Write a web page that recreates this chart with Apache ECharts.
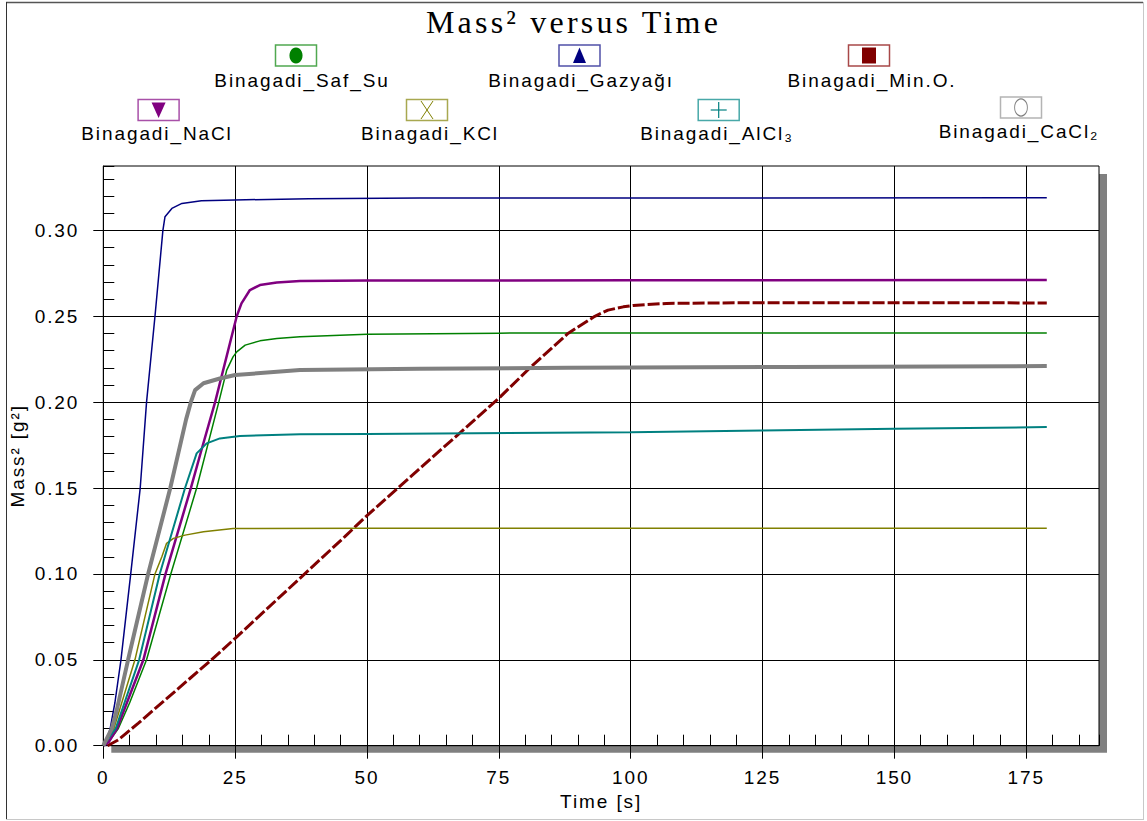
<!DOCTYPE html>
<html><head><meta charset="utf-8">
<script src="https://cdn.jsdelivr.net/npm/echarts@6/dist/echarts.min.js"></script>
<style>
html,body{margin:0;padding:0;background:#fff;}
#chart{width:1147px;height:821px;}
#chart text{letter-spacing:0.1em;}
</style></head><body><div id="chart"></div>
<script>
// ---------- data ----------
const seriesNames = ['Binagadi_Saf_Su','Binagadi_Gazyağı','Binagadi_Min.O.','Binagadi_NaCl','Binagadi_KCl','Binagadi_AlCl₃','Binagadi_CaCl₂'];
const xTickValues = [0,25,50,75,100,125,150,175];
const yTickValues = [0,0.05,0.10,0.15,0.20,0.25,0.30];

const safSu = [[0,0],[1.2,0.003],[2.85,0.01],[5,0.025],[8.2,0.05],[12.8,0.10],[17.7,0.15],[21.9,0.20],[23.4,0.2187],[24.6,0.2264],[25.3,0.2293],[26.9,0.2332],[29.7,0.2357],[32.9,0.2371],[37.3,0.2381],[50,0.2395],[75,0.2402],[120,0.2403],[178.9,0.2403]];
const gazyagi = [[0.4,0],[1.3,0.01],[2.2,0.025],[3.35,0.05],[5.2,0.10],[7.0,0.15],[8.2,0.20],[9.8,0.25],[11.3,0.30],[11.7,0.308],[13.0,0.3128],[14.9,0.3157],[18.6,0.3172],[25,0.3177],[39,0.3185],[60,0.3188],[178.9,0.319]];
const minO = [[0.8,0],[2.8,0.0033],[6.6,0.013],[20.5,0.05],[25,0.0625],[45.8,0.1217],[50,0.134],[75,0.2023],[80.9,0.22],[88.1,0.24],[93.2,0.25],[95.7,0.2536],[98.6,0.2555],[100.5,0.2563],[106.8,0.2575],[120.7,0.2579],[178.9,0.2578]];
const naCl = [[0,0],[1.0,0.002],[2.6,0.01],[7.6,0.05],[11.8,0.10],[16.6,0.15],[18.6,0.172],[21.2,0.20],[25.3,0.25],[26.2,0.2575],[27.8,0.2653],[29.7,0.2682],[32.9,0.2697],[37.3,0.2705],[50,0.2708],[100,0.271],[178.9,0.2711]];
const kCl = [[0,0],[2.0,0.01],[6.0,0.05],[9.8,0.10],[11.1,0.11],[12.0,0.1178],[13.3,0.1207],[15.5,0.1226],[19.0,0.1246],[24.6,0.1265],[50,0.1266],[178.9,0.1266]];
const alCl3 = [[0,0],[2.35,0.01],[6.8,0.05],[10.7,0.10],[15.5,0.15],[17.7,0.1702],[19.6,0.176],[22.1,0.1789],[25.9,0.1803],[37.3,0.1813],[50,0.1815],[100,0.1825],[125,0.1835],[150,0.1845],[178.9,0.1855]];
const caCl2 = [[0,0],[1.6,0.01],[2.5,0.02],[4.7,0.05],[8.5,0.10],[12.7,0.15],[15.7,0.19],[16.6,0.20],[17.4,0.207],[19.0,0.211],[22.1,0.2138],[25,0.2158],[37.3,0.2187],[60,0.2195],[88,0.22],[130,0.2205],[178.9,0.221]];

const seriesData = [safSu, gazyagi, minO, naCl, kCl, alCl3, caCl2];

// ---------- styles / layout ----------
const colors = ['#008000','#000080','#800000','#800080','#808000','#008080','#808080'];
const boxColors = ['#50a850','#5050a8','#a84848','#a850a8','#a8a850','#48a8a8','#b4b4b4'];
const lineStyles = [
  {width:1.5},{width:1.5},{width:3,type:[12,3]},{width:2.5},{width:1.5},{width:2},{width:4}
];
const symbolKinds = ['ellipse','triUp','square','triDown','cross','plus','hollowEllipse'];
// [boxCx, boxCy, labelCx, labelCy]
const legendPos = [
  [296,55.5,302,80],[579.5,55.5,581,80],[869,55.5,872,80],
  [158.6,110,157,133.5],[427,110,430,133.5],[718.7,110,717,133.5],[1021,107.5,1019,131]
];

const X_MAX = 188.8, Y_MAX = 0.3375;
const font = 'Liberation Sans';

function symbolEl(kind, cx, cy, color){
  switch(kind){
    case 'ellipse': return {type:'circle', x:cx, y:cy, scaleX:0.82, shape:{cx:0,cy:0,r:8}, style:{fill:color}};
    case 'hollowEllipse': return {type:'circle', x:cx, y:cy, scaleX:0.75, shape:{cx:0,cy:0,r:8.5}, style:{fill:'#fff',stroke:color,lineWidth:1.2}};
    case 'triUp': return {type:'polygon', shape:{points:[[cx,cy-8],[cx+6.5,cy+7.5],[cx-6.5,cy+7.5]]}, style:{fill:color}};
    case 'triDown': return {type:'polygon', shape:{points:[[cx-7,cy-7.5],[cx+7,cy-7.5],[cx,cy+8]]}, style:{fill:color}};
    case 'square': return {type:'rect', shape:{x:cx-7,y:cy-8,width:14,height:16}, style:{fill:color}};
    case 'cross': return {type:'group', children:[
        {type:'line', shape:{x1:cx-6,y1:cy-9,x2:cx+6,y2:cy+9}, style:{stroke:color,lineWidth:1}},
        {type:'line', shape:{x1:cx+6,y1:cy-9,x2:cx-6,y2:cy+9}, style:{stroke:color,lineWidth:1}}]};
    case 'plus': return {type:'group', children:[
        {type:'line', shape:{x1:cx-8,y1:cy,x2:cx+8,y2:cy}, style:{stroke:color,lineWidth:1.2}},
        {type:'line', shape:{x1:cx,y1:cy-8,x2:cx,y2:cy+8}, style:{stroke:color,lineWidth:1.2}}]};
  }
}

const graphics = [];
// outer frame
graphics.push({type:'line', shape:{x1:6,y1:2.5,x2:1143,y2:2.5}, style:{stroke:'#555',lineWidth:1.5}, z:-5});
graphics.push({type:'line', shape:{x1:6.5,y1:2,x2:6.5,y2:820}, style:{stroke:'#333',lineWidth:1}, z:-5});
graphics.push({type:'line', shape:{x1:1143.5,y1:2,x2:1143.5,y2:820}, style:{stroke:'#c8c8c8',lineWidth:1}, z:-5});
graphics.push({type:'line', shape:{x1:6,y1:819.5,x2:1144,y2:819.5}, style:{stroke:'#c8c8c8',lineWidth:1}, z:-5});
// plot shadow
graphics.push({type:'rect', shape:{x:111.3,y:174,width:995.7,height:578.7}, style:{fill:'#808080'}, z:-5});
// legend
seriesNames.forEach((name,i)=>{
  const [bx,by,lx,ly] = legendPos[i];
  graphics.push({type:'rect', shape:{x:bx-20.5,y:by-10.5,width:41,height:21}, style:{fill:'#fff',stroke:boxColors[i],lineWidth:1.5}});
  graphics.push(symbolEl(symbolKinds[i], bx, by, colors[i]));
  graphics.push({type:'text', x:lx, y:ly, style:{text:name, fill:'#000', font:'19px "Liberation Sans"', textAlign:'center', textVerticalAlign:'middle'}});
});

const chart = echarts.init(document.getElementById('chart'), null, {renderer:'svg', width:1147, height:821});

const labelStyle = {color:'#000', fontFamily:font, fontSize:19};

const option = {
  animation:false,
  backgroundColor:'#fff',
  title:{text:'Mass² versus Time', left:'center', top:1,
    textStyle:{fontFamily:'Liberation Serif', fontSize:32, fontWeight:'normal', color:'#000'}},
  grid:{left:103.3, right:48, top:166, bottom:75.3, show:true, backgroundColor:'#fff', borderColor:'#000', borderWidth:1, z:0},
  graphic:graphics,
  xAxis:[
    {type:'value', min:0, max:X_MAX, interval:25, position:'bottom',
     name:'Time [s]', nameLocation:'middle', nameGap:44,
     nameTextStyle:Object.assign({}, labelStyle),
     axisLine:{show:true, onZero:false, lineStyle:{color:'#000', width:1}},
     axisTick:{show:true, length:13, inside:false, lineStyle:{color:'#000'}, customValues:xTickValues},
     axisLabel:Object.assign({margin:22, customValues:xTickValues}, labelStyle),
     splitLine:{show:true, lineStyle:{color:'#000', width:1}}},
    {type:'value', min:0, max:X_MAX, interval:5, position:'bottom',
     axisLine:{show:false}, axisLabel:{show:false}, splitLine:{show:false},
     axisTick:{show:true, inside:true, length:11, lineStyle:{color:'#000'}}}
  ],
  yAxis:[
    {type:'value', min:0, max:Y_MAX, interval:0.05, position:'left',
     name:'Mass² [g²]', nameLocation:'middle', nameGap:76, nameRotate:90,
     nameTextStyle:Object.assign({}, labelStyle),
     axisLine:{show:true, onZero:false, lineStyle:{color:'#000', width:1}},
     axisTick:{show:true, length:10, inside:false, lineStyle:{color:'#000'}, customValues:yTickValues},
     axisLabel:Object.assign({margin:24, customValues:yTickValues, formatter:v=>v.toFixed(2)}, labelStyle),
     splitLine:{show:true, lineStyle:{color:'#000', width:1}}},
    {type:'value', min:0, max:Y_MAX, interval:0.01, position:'left',
     axisLine:{show:false}, axisLabel:{show:false}, splitLine:{show:false},
     axisTick:{show:true, inside:true, length:11, lineStyle:{color:'#000'}}}
  ],
  series: seriesNames.map((name,i)=>({
    name:name, type:'line', data:seriesData[i], xAxisIndex:0, yAxisIndex:0,
    showSymbol:false, symbol:'none', smooth:false, z:3,
    lineStyle:Object.assign({color:colors[i]}, lineStyles[i])
  }))
};
chart.setOption(option);
</script></body></html>
